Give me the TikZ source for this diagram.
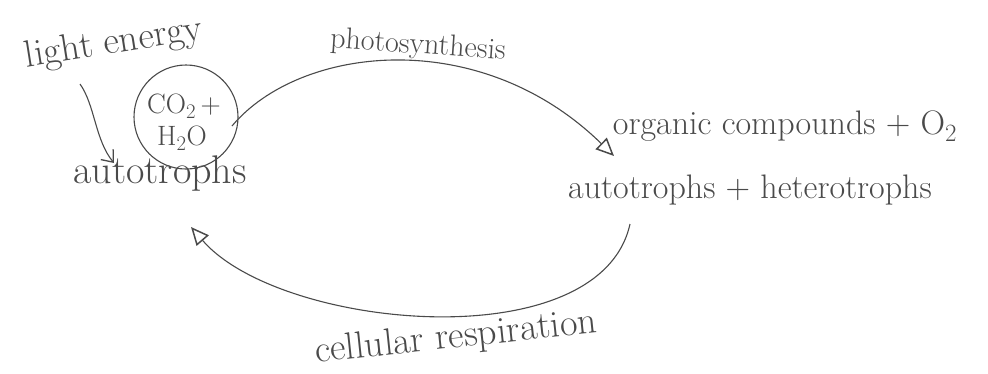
\documentclass[tikz,border=0pt]{standalone}
\usetikzlibrary{arrows.meta}
\definecolor{pencil}{HTML}{4a4a4a}
\begin{document}
\begin{tikzpicture}[x=1pt,y=-1pt,
  lbl/.style={text=pencil, inner sep=0pt},
  conn/.style={draw=pencil, line width=1.1pt},
  tri/.style={-{Triangle[open,length=18pt,width=16pt,line width=1.5pt]}},
  barb/.style={-{Straight Barb[length=10pt,width=16pt,line width=1.3pt]}}]
\useasboundingbox (0,0) rectangle (988,373);
% texts
\node[lbl, rotate=9, font=\fontsize{38}{42}\selectfont] (light) at (114,44) {light energy};
\node[lbl, font=\fontsize{40}{44}\selectfont] (auto) at (160,174) {autotrophs};
\node[circle, draw=pencil, line width=1.1pt, minimum size=104pt, inner sep=0pt] (cyc) at (186,117) {};
\node[lbl, font=\fontsize{28}{32}\selectfont] (co2) at (184,106) {CO$_2$\,+};
\node[lbl, font=\fontsize{28}{32}\selectfont] (h2o) at (182,138) {H$_2$O};
\node[lbl, rotate=-4, font=\fontsize{30}{34}\selectfont] (photo) at (418,46) {photosynthesis};
\node[lbl, font=\fontsize{34}{38}\selectfont] (org) at (785,126) {organic compounds + O$_2$};
\node[lbl, font=\fontsize{34}{38}\selectfont] (ah) at (750,190) {autotrophs + heterotrophs};
\node[lbl, rotate=6, font=\fontsize{38}{42}\selectfont] (resp) at (456,338) {cellular respiration};
% connector ends
\coordinate (lightstart) at (80,84);
\coordinate (lighttip) at (114,163);
\coordinate (photostart) at (232,126);
\coordinate (phototip) at (614,156);
\coordinate (respstart) at (630,224);
\coordinate (resptip) at (191,227);
% connectors
\draw[conn, barb] (lightstart) .. controls (95,105) and (95,140) .. (lighttip);
\draw[conn, tri] (photostart) .. controls (300,45) and (480,25) .. (phototip);
\draw[conn, tri] (respstart) .. controls (600,360) and (280,330) .. (resptip);
\end{tikzpicture}
\end{document}
